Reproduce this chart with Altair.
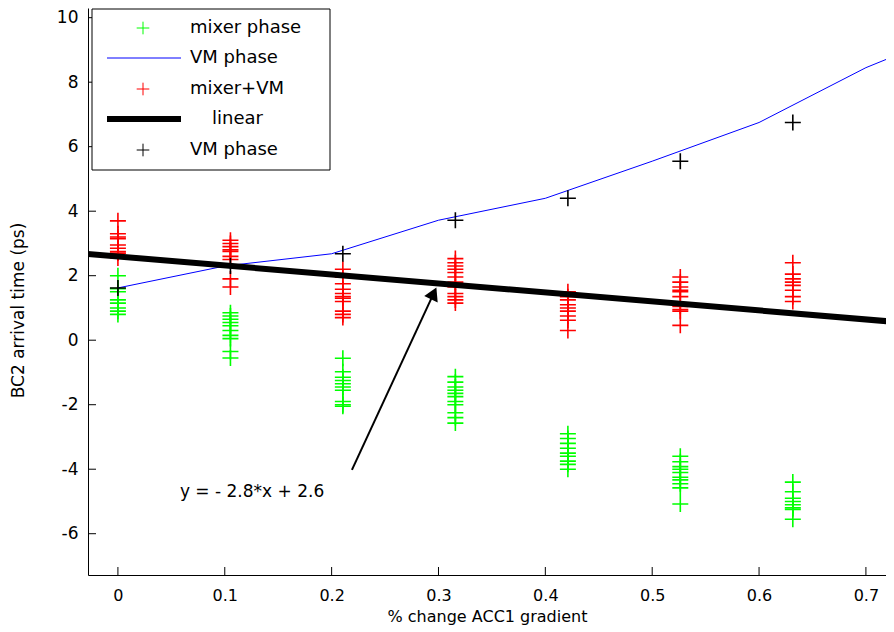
import altair as alt
import pandas as pd

# ---------------- data ----------------
x_cols = [0.0, 0.1053, 0.2105, 0.3158, 0.4211, 0.5263, 0.6316]

mixer_phase = [
    [2.0, 1.6, 1.5, 1.25, 1.15, 1.0, 0.9, 0.8],
    [0.85, 0.75, 0.65, 0.55, 0.45, 0.3, 0.15, 0.05, -0.35, -0.55],
    [-0.56, -0.98, -1.15, -1.25, -1.35, -1.45, -1.55, -1.9, -2.0, -2.05],
    [-1.13, -1.3, -1.45, -1.55, -1.65, -1.75, -1.9, -2.0, -2.25, -2.4, -2.57],
    [-2.9, -3.05, -3.2, -3.35, -3.5, -3.6, -3.75, -3.85, -4.0],
    [-3.6, -3.77, -3.92, -4.0, -4.1, -4.25, -4.33, -4.45, -4.58, -5.08],
    [-4.4, -4.7, -4.9, -5.0, -5.1, -5.2, -5.25, -5.55],
]
mixer_vm = [
    [3.7, 3.3, 3.2, 3.15, 2.95, 2.85, 2.75, 2.7, 2.55],
    [3.1, 3.0, 2.9, 2.8, 2.75, 2.6, 2.5, 1.9, 1.65],
    [2.2, 1.95, 1.75, 1.58, 1.45, 1.35, 1.3, 1.2, 0.9, 0.8, 0.7],
    [2.53, 2.4, 2.3, 2.2, 2.1, 1.96, 1.8, 1.65, 1.45, 1.35, 1.25, 1.15],
    [1.5, 1.35, 1.25, 1.1, 1.0, 0.9, 0.75, 0.62, 0.3],
    [1.96, 1.8, 1.65, 1.55, 1.5, 1.35, 1.05, 0.95, 0.9, 0.46],
    [2.4, 2.05, 1.9, 1.8, 1.7, 1.55, 1.35, 1.2],
]
vm_points = [1.62, 2.3, 2.68, 3.72, 4.4, 5.55, 6.75]

vm_line_x = [0.0, 0.1, 0.2, 0.3, 0.4, 0.5, 0.6, 0.7, 0.8]
vm_line_y = [1.62, 2.3, 2.68, 3.72, 4.4, 5.55, 6.75, 8.45, 9.8]

fit_x = [-0.03, 0.73]
fit_y = [2.68, 0.56]

x_ticks = [0, 0.1, 0.2, 0.3, 0.4, 0.5, 0.6, 0.7]
y_ticks = [-6, -4, -2, 0, 2, 4, 6, 8, 10]

annot_text = ["y = - 2.8*x + 2.6"]
annot_pos = [0.058, -4.7]
arrow_tail = [0.219, -4.02]
arrow_head = [0.2955, 1.45]

legend_labels = ["mixer phase", "VM phase", "mixer+VM", "linear", "VM phase"]
legend_colors = ["#00ff00", "#0000ff", "#ff0000", "#000000", "#000000"]
legend_kinds = ["plus", "line", "plus", "thick", "plus"]

PLUS = "M-1,0L1,0M0,-1L0,1"
FONT = "DejaVu Sans"
FS = 17

# ---------------- tables ----------------
def cluster_df(values):
    rows = []
    for xv, col in zip(x_cols, values):
        for v in col:
            rows.append({"x": xv, "y": v})
    return pd.DataFrame(rows)

green_df = cluster_df(mixer_phase)
red_df = cluster_df(mixer_vm)
black_df = pd.DataFrame({"x": x_cols, "y": vm_points})
blue_df = pd.DataFrame({"x": vm_line_x, "y": vm_line_y})
fit_df = pd.DataFrame({"x": fit_x, "y": fit_y})

xscale = alt.Scale(domain=[-0.028, 0.7188], nice=False, zero=False)
yscale = alt.Scale(domain=[-7.28, 10.3], nice=False, zero=False)

xenc = alt.X("x:Q", scale=xscale, axis=alt.Axis(
    values=x_ticks, title="% change ACC1 gradient", tickSize=0, labelPadding=12,
    labelFontSize=16, labelExpr="'' + datum.value", grid=False, domainColor="black",
    titleFontSize=16, titlePadding=5))
yenc = alt.Y("y:Q", scale=yscale, axis=alt.Axis(
    values=y_ticks, title="BC2 arrival time (ps)", tickSize=0, labelPadding=10,
    labelExpr="'' + datum.value", grid=False, domainColor="black",
    titleX=-70, titleY=302, titleAngle=-90, titleAlign="center", titleBaseline="middle"))


def points(df, c):
    return alt.Chart(df).mark_point(shape=PLUS, filled=False, opacity=1, size=256,
                                    strokeWidth=1.6, color=c).encode(x=xenc, y=yenc)


def line(df, c, w):
    return alt.Chart(df).mark_line(clip=True, color=c, strokeWidth=w).encode(x=xenc, y=yenc)


xt_df = pd.DataFrame({"x": x_ticks})
yt_df = pd.DataFrame({"y": y_ticks})
xticks = alt.Chart(xt_df).mark_rule(color="black", strokeWidth=1).encode(
    x=alt.X("x:Q", scale=xscale), y=alt.value(567), y2=alt.value(559))
yticks = alt.Chart(yt_df).mark_rule(color="black", strokeWidth=1).encode(
    y=alt.Y("y:Q", scale=yscale), x=alt.value(0), x2=alt.value(8))

ann_df = pd.DataFrame({"x": [annot_pos[0]], "y": [annot_pos[1]], "t": annot_text})
annot = alt.Chart(ann_df).mark_text(align="left", baseline="middle", font=FONT,
                                    fontSize=FS, color="black").encode(
    x=alt.X("x:Q", scale=xscale), y=alt.Y("y:Q", scale=yscale), text="t:N")

arr_df = pd.DataFrame({"x": [arrow_tail[0]], "y": [arrow_tail[1]],
                       "x2": [arrow_head[0]], "y2": [arrow_head[1]]})
arrow = alt.Chart(arr_df).mark_rule(color="black", strokeWidth=2).encode(
    x=alt.X("x:Q", scale=xscale), y=alt.Y("y:Q", scale=yscale), x2="x2:Q", y2="y2:Q")
head_df = pd.DataFrame({"x": [arrow_head[0]], "y": [arrow_head[1]]})
head = alt.Chart(head_df).mark_point(shape="triangle-up", filled=True, color="black",
                                     opacity=1, size=220, angle=25).encode(
    x=alt.X("x:Q", scale=xscale), y=alt.Y("y:Q", scale=yscale))

# ---------------- legend (drawn in the plot's top-left corner) ----------------
one = pd.DataFrame({"k": [0]})
legend_layers = [
    alt.Chart(one).mark_rect(fill="white", stroke="black", strokeWidth=1).encode(
        x=alt.value(4), x2=alt.value(242), y=alt.value(1), y2=alt.value(162))
]
row_y = [20, 50, 81, 111, 142]
for lab, col, kind, ry in zip(legend_labels, legend_colors, legend_kinds, row_y):
    if kind == "plus":
        legend_layers.append(alt.Chart(one).mark_point(
            shape=PLUS, filled=False, opacity=1, size=160, strokeWidth=1, color=col
        ).encode(x=alt.value(55), y=alt.value(ry)))
        tx = 102
    else:
        legend_layers.append(alt.Chart(one).mark_rule(
            color=col, strokeWidth=1 if kind == "line" else 6
        ).encode(x=alt.value(19), x2=alt.value(93), y=alt.value(ry)))
        tx = 102 if kind == "line" else 124
    legend_layers.append(alt.Chart(pd.DataFrame({"t": [lab]})).mark_text(
        align="left", baseline="middle", font=FONT, fontSize=18, color="black"
    ).encode(x=alt.value(tx), y=alt.value(ry), text="t:N"))

chart = alt.layer(
    points(green_df, "#00ff00"), line(blue_df, "#0000ff", 1), points(red_df, "#ff0000"),
    line(fit_df, "#000000", 6), points(black_df, "#000000"),
    xticks, yticks, arrow, head, annot, *legend_layers,
).properties(
    width=798, height=567,
    autosize=alt.AutoSizeParams(type="none"),
    padding={"left": 80, "top": 0, "right": 0, "bottom": 56},
).configure_view(stroke=None).configure_axis(
    labelFont=FONT, labelFontSize=FS, titleFont=FONT, titleFontSize=FS,
    labelColor="black", titleColor="black", titleFontWeight="normal",
)

chart.save("out.html", embed_options={"renderer": "svg", "actions": False})
